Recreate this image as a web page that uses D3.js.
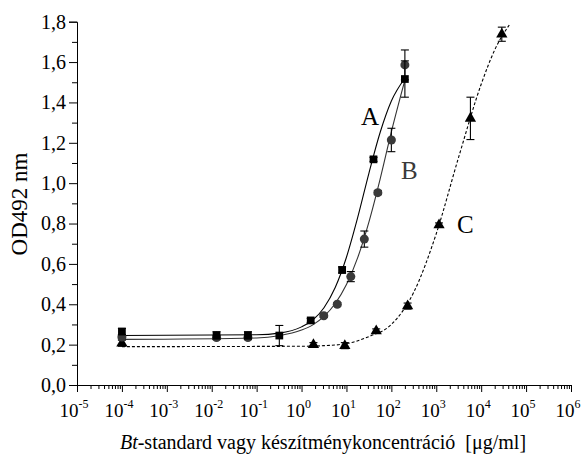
<!DOCTYPE html>
<html>
<head>
<meta charset="utf-8">
<script src="https://cdn.jsdelivr.net/npm/d3@7"></script>
<style>
  body { margin: 0; background: #fff; }
  svg { display: block; }
  svg text { font-family: "Liberation Serif", "Times New Roman", serif; }
</style>
</head>
<body>
<svg id="chart"></svg>
<script>
// measured points (conc in ug/ml, OD492)
const concA = [1e-4, 0.0128, 0.064, 0.32, 1.6, 8, 40, 200];
const odA = [0.265, 0.246, 0.246, 0.245, 0.32, 0.57, 1.118, 1.516];
const errA = [0.015, 0.018, 0.018, 0.05, 0.01, 0.015, 0.01, 0.09];

const concB = [1e-4, 0.0128, 0.064, 3.125, 6.25, 12.5, 25, 50, 100, 200];
const odB = [0.238, 0.235, 0.235, 0.343, 0.40, 0.537, 0.723, 0.953, 1.214, 1.586];
const errB = [0.01, 0.01, 0.01, 0.008, 0.008, 0.025, 0.04, 0.01, 0.058, 0.074];

const concC = [1e-4, 1.84, 9.2, 46, 230, 1152, 5760, 28800];
const odC = [0.207, 0.20, 0.195, 0.268, 0.391, 0.793, 1.321, 1.738];
const errC = [0.015, 0.01, 0.015, 0.01, 0.015, 0.01, 0.105, 0.035];

// fitted curves
const fitXA = [1e-4, 0.1, 0.316, 1, 1.78, 3.16, 5.62, 10, 17.8, 31.6, 56.2, 100, 200];
const fitA = [0.245, 0.249, 0.257, 0.288, 0.322, 0.383, 0.483, 0.633, 0.83, 1.049, 1.251, 1.407, 1.52];
const fitXB = [1e-4, 0.1, 0.316, 1, 1.78, 3.16, 5.62, 10, 17.8, 31.6, 56.2, 100, 200];
const fitB = [0.226, 0.233, 0.244, 0.272, 0.298, 0.34, 0.404, 0.498, 0.631, 0.807, 1.02, 1.254, 1.51];
const fitXC = [1e-4, 1, 3.16, 10, 31.6, 100, 316, 1000, 3160, 10000, 20000, 44000];
const fitC = [0.19, 0.192, 0.195, 0.205, 0.24, 0.30, 0.46, 0.75, 1.13, 1.49, 1.66, 1.79];

const yTicks = [0, 0.2, 0.4, 0.6, 0.8, 1.0, 1.2, 1.4, 1.6, 1.8];
const xExps = [-5, -4, -3, -2, -1, 0, 1, 2, 3, 4, 5, 6];

const width = 584, height = 459;
const serif = 'Liberation Serif';
const svg = d3.select('#chart').attr('width', width).attr('height', height);

const x = d3.scaleLog().domain([1e-5, 1e6]).range([77, 571]);
const y = d3.scaleLinear().domain([0, 1.8]).range([385, 21.7]);

// y axis
const minorY = d3.range(1, 18, 2).map(v => v / 10);
svg.append('g')
  .attr('transform', 'translate(77,0)')
  .call(d3.axisLeft(y).tickValues(minorY).tickSize(5).tickFormat(''))
  .call(g => g.select('.domain').remove());
svg.append('g')
  .attr('transform', 'translate(77,0)')
  .call(d3.axisLeft(y).tickValues(yTicks).tickSizeOuter(0).tickSize(8).tickPadding(3)
    .tickFormat(d => d3.format('.1f')(d).replace('.', ',')))
  .attr('font-family', serif)
  .attr('font-size', 20)
  .call(g => g.selectAll('text').attr('fill', '#000'));

// x axis
const minorX = [];
xExps.slice(0, -1).forEach(e => { for (let k = 2; k < 10; k++) minorX.push(k * Math.pow(10, e)); });
svg.append('g')
  .attr('transform', 'translate(0,385)')
  .call(d3.axisBottom(x).tickValues(minorX).tickSize(4).tickFormat(''))
  .call(g => g.select('.domain').remove());
svg.append('g')
  .attr('transform', 'translate(0,385)')
  .call(d3.axisBottom(x).tickValues(xExps.map(e => Math.pow(10, e))).tickSize(7).tickSizeOuter(0).tickFormat(''));

const xl = svg.append('g').attr('font-family', serif).selectAll('text').data(xExps).enter().append('text')
  .attr('x', d => x(Math.pow(10, d)) - 3)
  .attr('y', 417)
  .attr('text-anchor', 'middle')
  .attr('font-size', 19);
xl.append('tspan').text('10');
xl.append('tspan').attr('dy', -9).attr('font-size', 12).text(d => d);

// axis titles
svg.append('text')
  .attr('transform', 'translate(27,204) rotate(-90)')
  .attr('text-anchor', 'middle')
  .attr('font-family', serif)
  .attr('font-size', 23)
  .text('OD492 nm');

const xt = svg.append('text')
  .attr('x', 323).attr('y', 449)
  .attr('text-anchor', 'middle')
  .attr('font-family', serif)
  .attr('font-size', 20)
  .style('white-space', 'pre');
xt.append('tspan').attr('font-style', 'italic').text('Bt');
xt.append('tspan').text('-standard vagy készítménykoncentráció  [μg/ml]');

// fitted curves
const line = d3.line().x(d => x(d[0])).y(d => y(d[1])).curve(d3.curveMonotoneX);
svg.append('path').datum(d3.zip(fitXC, fitC)).attr('d', line)
  .attr('fill', 'none').attr('stroke', '#000').attr('stroke-width', 1.1).attr('stroke-dasharray', '3,2');
svg.append('path').datum(d3.zip(fitXB, fitB)).attr('d', line)
  .attr('fill', 'none').attr('stroke', '#333').attr('stroke-width', 1.1);
svg.append('path').datum(d3.zip(fitXA, fitA)).attr('d', line)
  .attr('fill', 'none').attr('stroke', '#000').attr('stroke-width', 1.1);

// error bars + markers
function series(conc, od, err, shape, size, color) {
  const data = d3.zip(conc, od, err);
  const g = svg.append('g');
  const eb = g.selectAll('g.err').data(data).enter().append('g')
    .attr('stroke', '#000').attr('stroke-width', 1.1);
  eb.append('line')
    .attr('x1', d => x(d[0])).attr('x2', d => x(d[0]))
    .attr('y1', d => y(d[1] - d[2])).attr('y2', d => y(d[1] + d[2]));
  [1, -1].forEach(s => {
    eb.append('line')
      .attr('x1', d => x(d[0]) - 4).attr('x2', d => x(d[0]) + 4)
      .attr('y1', d => y(d[1] + s * d[2])).attr('y2', d => y(d[1] + s * d[2]));
  });
  g.selectAll('path.mark').data(data).enter().append('path')
    .attr('class', 'mark')
    .attr('transform', d => 'translate(' + x(d[0]) + ',' + y(d[1]) + ')')
    .attr('d', d3.symbol().type(shape).size(size))
    .attr('fill', color);
}
series(concC, odC, errC, d3.symbolTriangle, 55, '#000');
series(concB, odB, errB, d3.symbolCircle, 64, '#3a3a3a');
series(concA, odA, errA, d3.symbolSquare, 60, '#000');

// curve labels
const lab = svg.append('g').attr('font-family', serif).attr('font-size', 25);
lab.append('text').attr('x', 361).attr('y', 125).text('A');
lab.append('text').attr('x', 401).attr('y', 179).attr('fill', '#3a3a3a').text('B');
lab.append('text').attr('x', 457).attr('y', 233).text('C');
</script>
</body>
</html>
